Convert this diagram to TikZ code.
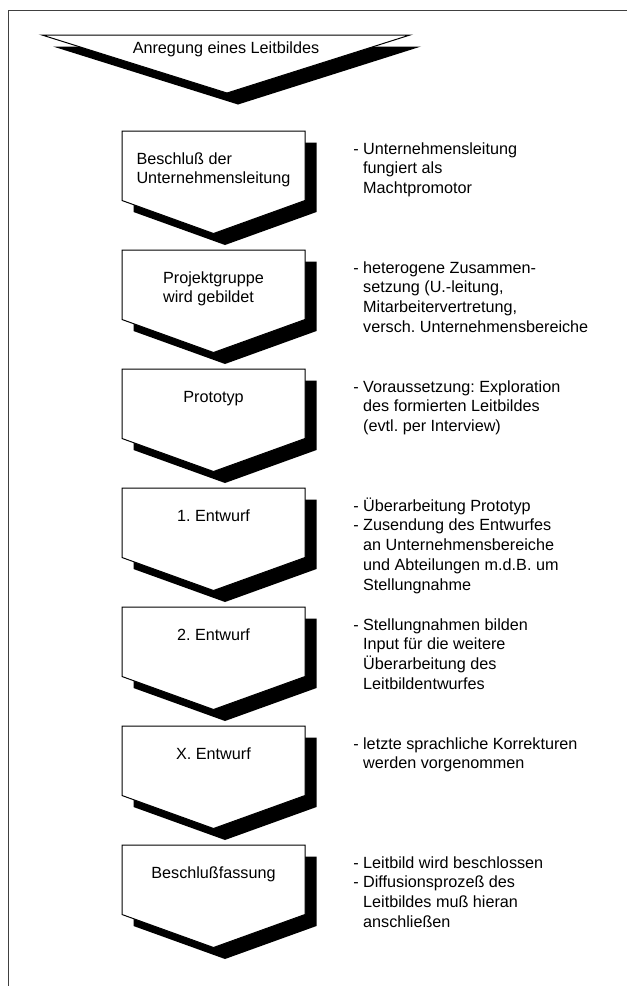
\documentclass[tikz,border=0pt]{standalone}
\usepackage{fontspec}
\setmainfont{Liberation Sans}
\frenchspacing
\newcommand{\stagefont}{\fontsize{12.15}{14.85}\selectfont}
\newcommand{\stagelines}[1]{\begin{tabular}[t]{@{}l@{}}#1\end{tabular}}
\newcommand{\notelines}[1]{\begin{tabular}[t]{@{}l@{\ }l@{}}#1\end{tabular}}
\begin{document}
\begin{tikzpicture}[x=0.75pt, y=-0.75pt]
  \tikzset{
    frame/.style={draw=black!75, line width=0.75pt},
    stage/.style={draw=black, fill=white, line width=0.75pt},
    stageshadow/.style={fill=black},
    stagetext/.style={anchor=base, inner sep=0pt, font=\stagefont},
    note/.style={anchor=base west, inner sep=0pt, font=\stagefont},
  }
  \useasboundingbox (0,0) rectangle (627,986);
  % Rahmen (nur oben und links sichtbar)
  \draw[frame] (8,986) -- (8,10) -- (627,10);
  % Anregung (flaches Dreieck oben)
  \fill[stageshadow] (53,46.5) -- (421,46.5) -- (238,104.5) -- cycle;
  \draw[stage] (42,35) -- (410,35) -- (227,93) -- cycle;
  \node[stagetext] (start) at (226,53) {Anregung eines Leitbildes};
  % Phasen
  \foreach \i/\lbl in {0/{Beschluß der\\Unternehmensleitung},
                       1/{Projektgruppe\\wird gebildet},
                       2/Prototyp,3/1. Entwurf,4/2. Entwurf,5/X. Entwurf,
                       6/Beschlußfassung}{
    \begin{scope}[shift={(0,131+119*\i)}]
      \fill[stageshadow, shift={(11.5,11.5)}]
        (122,0) -- (305,0) -- (305,69.5) -- (213.5,102.5) -- (122,69.5) -- cycle;
      \draw[stage]
        (122,0) -- (305,0) -- (305,69.5) -- (213.5,102.5) -- (122,69.5) -- cycle;
      \node[stagetext] (stage\i) at (213.5,33) {\stagelines{\lbl}};
    \end{scope}
  }
  % Erlaeuterungen rechts
  \node[note] (note0) at (353,154) {\notelines{-&Unternehmensleitung\\
    &fungiert als\\ &Machtpromotor}};
  \node[note] (note1) at (353,273) {\notelines{-&heterogene Zusammen-\\
    &setzung (U.-leitung,\\ &Mitarbeitervertretung,\\
    &versch. Unternehmensbereiche}};
  \node[note] (note2) at (353,392) {\notelines{-&Voraussetzung: Exploration\\
    &des formierten Leitbildes\\ &(evtl. per Interview)}};
  \node[note] (note3) at (353,511) {\notelines{-&Überarbeitung Prototyp\\
    -&Zusendung des Entwurfes\\ &an Unternehmensbereiche\\
    &und Abteilungen m.d.B. um\\ &Stellungnahme}};
  \node[note] (note4) at (353,630) {\notelines{-&Stellungnahmen bilden\\
    &Input für die weitere\\ &Überarbeitung des\\ &Leitbildentwurfes}};
  \node[note] (note5) at (353,749) {\notelines{-&letzte sprachliche Korrekturen\\
    &werden vorgenommen}};
  \node[note] (note6) at (353,868) {\notelines{-&Leitbild wird beschlossen\\
    -&Diffusionsprozeß des\\ &Leitbildes muß hieran\\ &anschließen}};
\end{tikzpicture}
\end{document}
